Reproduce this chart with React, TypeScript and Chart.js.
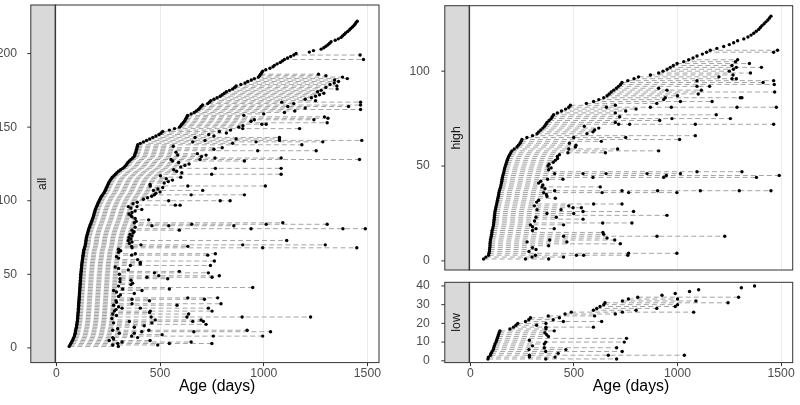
import React, { useEffect, useRef } from 'react';
import { Chart, registerables } from 'chart.js';

Chart.register(...registerables);

// ---------- data ----------
const xTicks = [0, 500, 1000, 1500];
const allYTicks = [0, 50, 100, 150, 200];
const highYTicks = [0, 50, 100];
const lowYTicks = [0, 10, 20, 30, 40];
const facetLabels = ['all', 'high', 'low'];
const xTitle = 'Age (days)';

// each row = one individual: ages (days) at which it was observed; first = entry age
const allAges: number[][] = [
  [62, 299], [66, 272, 489], [70, 296, 545, 750], [74, 317, 650], [78, 255, 452], [81, 276], [84, 272, 392], [87, 363, 757, 995], [89, 510], [91, 304, 376],
  [92, 412, 663, 1033], [93, 272, 446, 920], [95, 296], [97, 376], [98, 424], [99, 722], [100, 276, 461], [101, 352, 658, 709], [102, 477, 698], [103, 268],
  [103, 457, 630, 896, 1226], [104, 290], [104, 272, 638], [105, 449], [106, 280, 453, 751], [106, 288], [107, 317, 405, 733], [107, 300], [108, 276, 582], [108, 365, 794],
  [109, 290], [109, 288, 449], [110, 365, 714], [110, 634, 778], [111, 300], [111, 309], [112, 376], [112, 290], [113, 276, 413], [113, 320, 545],
  [114, 947], [114, 300], [115, 360], [115, 368], [116, 307], [116, 360], [117, 307, 537], [117, 437, 751], [118, 494, 786], [118, 304],
  [119, 473, 733], [120, 593], [120, 347], [121, 300], [122, 284], [122, 357, 743], [123, 405], [124, 405], [125, 762], [126, 392],
  [127, 300], [128, 290], [129, 363, 730], [130, 381, 767], [131, 300], [132, 310], [134, 300], [136, 365, 995, 1449], [138, 363, 634], [140, 408, 899, 1297],
  [141, 352], [142, 365], [143, 347, 1111], [144, 360], [145, 350], [147, 365], [149, 355], [151, 370], [153, 375], [155, 365, 593],
  [157, 939, 1382, 1490], [160, 380], [162, 461, 542, 856], [165, 653, 1012, 1306], [168, 376, 1092], [170, 385], [173, 445], [175, 380], [178, 365], [180, 360],
  [182, 350], [184, 365], [186, 380], [188, 412], [191, 360], [194, 347, 389], [197, 574, 597], [200, 370], [203, 390], [207, 542, 790, 838],
  [210, 420], [214, 440], [218, 460], [223, 473, 650, 907], [228, 480], [232, 500], [236, 468, 706], [239, 490], [242, 513], [246, 453, 634, 1008],
  [249, 452], [252, 520], [256, 540], [260, 560], [265, 530], [270, 600], [278, 502], [285, 749, 1084], [292, 605], [300, 580],
  [310, 566], [320, 767, 1084], [328, 600], [335, 620], [340, 640], [345, 590], [352, 561, 907], [360, 553, 693, 1462], [368, 765, 1084], [375, 700],
  [378, 585, 722], [380, 680], [383, 577], [385, 971, 1253], [387, 760], [389, 800], [391, 564], [393, 1184], [405, 850], [420, 658, 963, 1285],
  [435, 717, 1076, 1473], [450, 867, 1076], [465, 669, 1076], [480, 760], [495, 735], [505, 820], [513, 786], [545, 840], [570, 899, 1173], [594, 880],
  [600, 900], [605, 991, 1012], [612, 1306], [618, 939], [622, 955, 1242], [626, 1310], [630, 1293], [633, 904], [650, 1000], [665, 1100],
  [675, 1150], [685, 1467], [692, 1200], [698, 1116, 1409], [705, 1467], [730, 1145], [738, 1087, 1467], [745, 1250], [760, 1200], [775, 1230],
  [790, 1250], [800, 1269], [810, 1290], [820, 1260], [835, 1277], [850, 1354], [860, 1300], [867, 1353], [890, 1320], [910, 1340],
  [923, 1361], [940, 1342], [955, 1403], [974, 1380], [980, 1300], [985, 1264], [990], [995], [1010], [1030],
  [1045], [1052], [1065], [1080], [1090], [1100, 1481], [1115], [1130], [1145, 1465], [1156],
  [1220], [1240], [1277], [1290], [1300], [1310], [1318], [1325], [1345], [1360],
  [1373], [1380], [1388], [1395], [1405], [1413], [1420], [1428], [1435], [1440], [1445], [1451],
];

const highAges: number[][] = [
  [64, 266, 378], [75, 298, 450], [88, 314, 512, 547, 760], [90, 764, 997], [92, 283], [93, 317], [94, 300], [95, 378], [95, 724], [96, 274, 466],
  [97, 383, 697], [99, 660], [101, 450, 901, 1228], [103, 644], [104, 640], [105, 300], [108, 317, 405], [110, 300], [112, 290, 450], [113, 639, 780],
  [114, 310], [115, 544], [116, 317, 415], [117, 949], [118, 370, 499], [119, 544, 788], [121, 322, 438], [123, 496, 536], [125, 309, 475], [127, 595, 732],
  [129, 320], [131, 330], [133, 410], [135, 370], [137, 367], [138, 354, 636, 764, 997], [140, 407, 732, 904, 1110, 1298, 1451], [143, 360], [146, 346, 627], [148, 350],
  [150, 330], [152, 340], [153, 373, 447], [155, 592, 933, 1381], [157, 946, 1491], [160, 407, 544, 655, 853, 1014], [162, 1094, 1311], [164, 378], [166, 390], [169, 375],
  [172, 380], [175, 400], [178, 410], [181, 421], [185, 420], [190, 430], [195, 471, 652], [201, 909], [212, 475, 711], [225, 507],
  [232, 510], [240, 478], [245, 632], [249, 1010], [273, 499, 750], [300, 1086], [322, 563], [330, 592], [340, 600], [350, 620],
  [358, 550], [365, 716, 769, 1086, 1464], [370, 700], [380, 914], [390, 973, 1255], [395, 721], [402, 1187], [420, 700], [440, 750], [460, 800],
  [475, 657, 869, 970, 1287, 1477], [483, 700], [560, 900], [595, 1014, 1167], [620, 933], [644, 941, 1303, 1311], [660, 1000], [670, 1100], [680, 1469], [692, 949, 1115],
  [705, 909], [715, 1094, 1155], [725, 1467], [732, 1413], [760, 1094, 1464], [790, 1263, 1284], [812, 1200], [869, 1268], [909, 1352], [930, 1250],
  [950, 1270], [965, 1284, 1405], [980, 1263], [998, 1347], [1030, 1280], [1054, 1290], [1075], [1094], [1120], [1140, 1464],
  [1158, 1483], [1190], [1223], [1250], [1271], [1290], [1320], [1340], [1355], [1368],
  [1380], [1392], [1400], [1408], [1418], [1427], [1436], [1444], [1451],
];

const lowAges: number[][] = [
  [85, 364, 706], [87, 285, 409], [97, 285, 666, 1033], [100, 424], [105, 364, 733], [111, 283, 461], [113, 357, 706], [116, 300], [119, 357], [124, 364, 743],
  [127, 285], [130, 754], [133, 377], [136, 368], [139, 360], [143, 405], [191, 365], [208, 365, 594], [220, 320], [229, 365],
  [266, 449, 634], [282, 400], [290, 430], [376, 600], [457, 700], [487, 734, 1078], [594, 800], [610, 900], [626, 989], [644, 1000],
  [650, 1244], [734, 1089], [763, 1000], [808, 1295], [925], [989], [1058], [1102], [1308], [1372],
];

// ---------- rendering ----------
const FONT = '"Liberation Sans", Arial, Helvetica, sans-serif';

const facetPlugin = {
  id: 'facet',
  afterDraw(chart: any, _args: any, opts: any) {
    const { ctx, chartArea } = chart;
    const { left, right, top, bottom } = chartArea;
    const yScale = chart.scales.y;
    const sw = opts.stripWidth;
    const sx = left - sw;
    ctx.save();
    ctx.fillStyle = '#D9D9D9';
    ctx.fillRect(sx, top, sw, bottom - top);
    ctx.strokeStyle = '#333333';
    ctx.lineWidth = 1;
    ctx.strokeRect(sx, top, sw, bottom - top);
    ctx.strokeRect(left, top, right - left, bottom - top);
    ctx.beginPath();
    (opts.yTicks as number[]).forEach((v) => {
      const py = yScale.getPixelForValue(v);
      ctx.moveTo(sx - opts.tickLength, py);
      ctx.lineTo(sx, py);
    });
    ctx.stroke();
    ctx.translate(sx + sw / 2, (top + bottom) / 2);
    ctx.rotate(-Math.PI / 2);
    ctx.fillStyle = '#1A1A1A';
    ctx.font = `${opts.fontSize}px ${FONT}`;
    ctx.textAlign = 'center';
    ctx.textBaseline = 'middle';
    ctx.fillText(opts.label, 0, 0);
    ctx.restore();
  },
};

const zeroPad = (s: any) => {
  s.paddingLeft = 0;
  s.paddingRight = 0;
  s.paddingTop = 0;
  s.paddingBottom = 0;
};

function makeConfig(p: any) {
  const { ages, yMin, yMax, yTicks, label, showX, yWidth, xHeight, padding, labelPad } = p;
  const pts: any[] = [];
  const segs: any[] = [];
  (ages as number[][]).forEach((row, i) => {
    const y = i + 1;
    row.forEach((x) => pts.push({ x, y }));
    if (row.length > 1) {
      const last = row[row.length - 1];
      segs.push({ x: row[0], y }, { x: last, y }, { x: last, y: null });
    }
  });
  return {
    type: 'scatter',
    data: {
      datasets: [
        {
          data: pts,
          showLine: false,
          pointRadius: 1.7,
          pointBackgroundColor: '#000000',
          pointBorderColor: '#000000',
          pointBorderWidth: 0,
          order: 0,
        },
        {
          data: segs,
          showLine: true,
          spanGaps: false,
          borderColor: '#A4A4A4',
          borderWidth: 1,
          borderDash: [5, 3],
          pointRadius: 0,
          order: 1,
        },
      ],
    },
    options: {
      responsive: false,
      animation: false,
      events: [],
      layout: { padding },
      plugins: {
        legend: { display: false },
        tooltip: { enabled: false },
        facet: { label, stripWidth: 24.5, tickLength: 3.5, yTicks, fontSize: 12.3 },
      },
      scales: {
        x: {
          type: 'linear',
          min: -5,
          max: 1556,
          afterBuildTicks: (s: any) => {
            s.ticks = xTicks.map((v) => ({ value: v }));
          },
          afterFit: (s: any) => {
            s.height = xHeight;
            zeroPad(s);
          },
          grid: { color: '#EBEBEB', lineWidth: 1, drawTicks: showX, tickLength: 3.5, tickColor: '#333333', tickWidth: 1 },
          border: { display: false },
          ticks: {
            display: showX,
            color: '#4D4D4D',
            font: { family: FONT, size: 12.2 },
            padding: 0,
            maxRotation: 0,
            autoSkip: false,
            callback: (v: any) => String(v),
          },
          title: {
            display: showX,
            text: xTitle,
            color: '#000000',
            font: { family: FONT, size: 15.8 },
            padding: { top: 0, bottom: 9.3 },
          },
        },
        y: {
          type: 'linear',
          min: yMin,
          max: yMax,
          afterBuildTicks: (s: any) => {
            s.ticks = (yTicks as number[]).map((v) => ({ value: v }));
          },
          afterFit: (s: any) => {
            s.width = yWidth;
            zeroPad(s);
          },
          grid: { display: false },
          border: { display: false },
          ticks: {
            color: '#4D4D4D',
            font: { family: FONT, size: 12.2 },
            padding: labelPad,
            callback: (v: any) => String(v),
          },
        },
      },
    },
    plugins: [facetPlugin],
  };
}

export default function App() {
  const refA = useRef<HTMLCanvasElement>(null);
  const refB = useRef<HTMLCanvasElement>(null);
  const refC = useRef<HTMLCanvasElement>(null);

  useEffect(() => {
    document.body.style.margin = '0';
    const charts: Chart[] = [];
    if (refA.current) {
      charts.push(
        new Chart(
          refA.current,
          makeConfig({
            ages: allAges, yMin: -10, yMax: 233, yTicks: allYTicks, label: facetLabels[0], showX: true,
            yWidth: 55.3, xHeight: 42.4, padding: { top: 5, right: 21, bottom: 0, left: 0 }, labelPad: 30.3,
          }) as any
        )
      );
    }
    if (refB.current) {
      charts.push(
        new Chart(
          refB.current,
          makeConfig({
            ages: highAges, yMin: -4.8, yMax: 134.5, yTicks: highYTicks, label: facetLabels[1], showX: false,
            yWidth: 69.3, xHeight: 0, padding: { top: 5.7, right: 7.3, bottom: 0.7, left: 0 }, labelPad: 31.5,
          }) as any
        )
      );
    }
    if (refC.current) {
      charts.push(
        new Chart(
          refC.current,
          makeConfig({
            ages: lowAges, yMin: -0.95, yMax: 41.95, yTicks: lowYTicks, label: facetLabels[2], showX: true,
            yWidth: 69.3, xHeight: 42.4, padding: { top: 4.3, right: 7.3, bottom: 0, left: 0 }, labelPad: 31.5,
          }) as any
        )
      );
    }
    return () => charts.forEach((c) => c.destroy());
  }, []);

  return (
    <div style={{ position: 'absolute', left: 0, top: 0, width: 800, height: 405, background: '#FFFFFF' }}>
      <canvas ref={refA} width={400} height={405} style={{ position: 'absolute', left: 0, top: 0 }} />
      <canvas ref={refB} width={400} height={274} style={{ position: 'absolute', left: 400, top: 0 }} />
      <canvas ref={refC} width={400} height={127} style={{ position: 'absolute', left: 400, top: 278 }} />
    </div>
  );
}
